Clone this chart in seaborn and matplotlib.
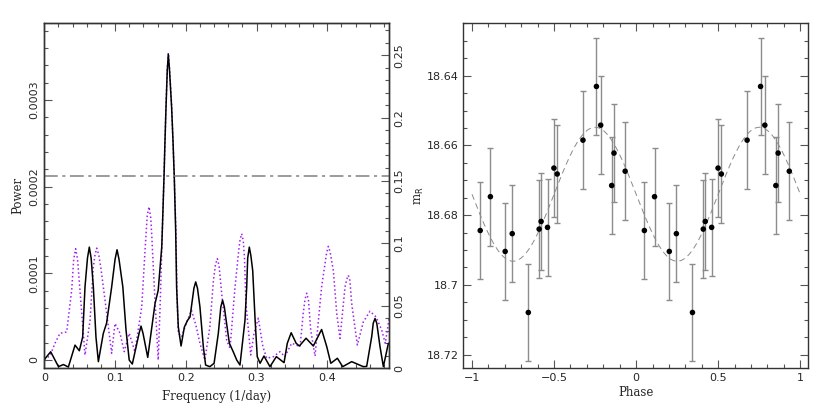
import numpy as np
import matplotlib
matplotlib.use('Agg')
import matplotlib.pyplot as plt
from matplotlib.ticker import MultipleLocator
import seaborn as sns

# periodogram (power in units of the right axis)
black_freq = [0.000, 0.009, 0.020, 0.027, 0.034, 0.0434, 0.0495, 0.0542, 0.0575, 0.0610,
              0.0636, 0.0662, 0.0693, 0.073, 0.0764, 0.0834, 0.088, 0.0952, 0.1000, 0.1028,
              0.1056, 0.111, 0.1155, 0.120, 0.1244, 0.1340, 0.1367, 0.1395, 0.1462, 0.1565,
              0.161, 0.166, 0.1668, 0.1692, 0.1706, 0.172, 0.1738, 0.1753, 0.177, 0.180,
              0.1819, 0.1837, 0.1857, 0.187, 0.1894, 0.1933, 0.198, 0.2027, 0.206, 0.2115,
              0.214, 0.2165, 0.220, 0.2248, 0.228, 0.234, 0.240, 0.246, 0.2495, 0.252,
              0.2545, 0.257, 0.2616, 0.267, 0.272, 0.2766, 0.2837, 0.2861, 0.2875, 0.2898,
              0.2920, 0.2946, 0.298, 0.301, 0.305, 0.3105, 0.319, 0.328, 0.3389, 0.3435,
              0.349, 0.356, 0.3605, 0.370, 0.3803, 0.392, 0.3993, 0.405, 0.4143, 0.4218,
              0.4345, 0.451, 0.4557, 0.4628, 0.4650, 0.4675, 0.4700, 0.4746, 0.4793, 0.4864]
black_power = [0.007, 0.0132, 0.0013, 0.003, 0.001, 0.0185, 0.014, 0.025, 0.065, 0.088,
               0.0968, 0.088, 0.065, 0.025, 0.0053, 0.0279, 0.036, 0.065, 0.087, 0.0947,
               0.087, 0.065, 0.0305, 0.0066, 0.0034, 0.028, 0.0337, 0.028, 0.0087, 0.0517,
               0.0623, 0.0968, 0.110, 0.153, 0.182, 0.208, 0.238, 0.2508, 0.238, 0.208,
               0.182, 0.153, 0.110, 0.065, 0.033, 0.0178, 0.033, 0.0385, 0.041, 0.064,
               0.069, 0.064, 0.049, 0.0172, 0.0026, 0.0013, 0.004, 0.028, 0.049, 0.0544,
               0.049, 0.0385, 0.020, 0.0133, 0.0066, 0.0026, 0.0385, 0.065, 0.088, 0.0968,
               0.090, 0.078, 0.0385, 0.0093, 0.004, 0.0098, 0.0013, 0.0093, 0.0045, 0.020,
               0.0284, 0.020, 0.0178, 0.024, 0.0178, 0.031, 0.0172, 0.004, 0.008, 0.0013,
               0.0053, 0.0013, 0.0015, 0.0252, 0.036, 0.0398, 0.036, 0.0172, 0.0013, 0.020]

purple_freq = [0.000, 0.008, 0.0151, 0.0222, 0.0316, 0.0387, 0.0415, 0.0443, 0.0470, 0.0504,
               0.0575, 0.0646, 0.0693, 0.0715, 0.074, 0.0768, 0.080, 0.0858, 0.0952, 0.0999,
               0.107, 0.113, 0.120, 0.128, 0.1377, 0.143, 0.1455, 0.148, 0.1505, 0.152,
               0.155, 0.161, 0.164, 0.1668, 0.1692, 0.172, 0.1738, 0.1753, 0.177, 0.180,
               0.1837, 0.186, 0.1875, 0.1894, 0.194, 0.200, 0.208, 0.214, 0.220, 0.227,
               0.234, 0.239, 0.242, 0.2446, 0.247, 0.2507, 0.2578, 0.2625, 0.2696, 0.275,
               0.2768, 0.279, 0.2812, 0.283, 0.285, 0.2918, 0.2965, 0.3025, 0.309, 0.3144,
               0.324, 0.3332, 0.340, 0.3497, 0.356, 0.3615, 0.366, 0.3685, 0.371, 0.3735,
               0.3766, 0.3827, 0.392, 0.399, 0.4015, 0.404, 0.4086, 0.4134, 0.418, 0.4251,
               0.4275, 0.4298, 0.432, 0.4345, 0.4425, 0.451, 0.4604, 0.4689, 0.477, 0.482,
               0.4877]
purple_power = [0.007, 0.010, 0.020, 0.028, 0.029, 0.0623, 0.087, 0.0955, 0.087, 0.0623,
                0.0106, 0.038, 0.081, 0.090, 0.096, 0.091, 0.080, 0.0544, 0.012, 0.0358,
                0.028, 0.0133, 0.028, 0.0133, 0.049, 0.100, 0.122, 0.129, 0.120, 0.105,
                0.070, 0.0066, 0.055, 0.110, 0.153, 0.210, 0.238, 0.252, 0.240, 0.210,
                0.153, 0.110, 0.060, 0.028, 0.025, 0.035, 0.0464, 0.035, 0.020, 0.0066,
                0.033, 0.070, 0.083, 0.0876, 0.082, 0.060, 0.0225, 0.0159, 0.065, 0.095,
                0.103, 0.1075, 0.102, 0.088, 0.052, 0.0106, 0.028, 0.040, 0.0172, 0.008,
                0.0093, 0.0133, 0.0093, 0.020, 0.0186, 0.0172, 0.0438, 0.055, 0.060, 0.054,
                0.0305, 0.0098, 0.065, 0.092, 0.0974, 0.093, 0.078, 0.0438, 0.0239, 0.065,
                0.071, 0.0743, 0.070, 0.052, 0.0186, 0.0371, 0.0456, 0.0411, 0.0305, 0.020,
                0.041]
threshold = 0.1533

# folded light curve, one cycle (plotted at phase-1 and phase)
phase = [0.050, 0.112, 0.202, 0.245, 0.343, 0.409, 0.421, 0.460, 0.499, 0.519,
         0.676, 0.758, 0.784, 0.851, 0.865, 0.933]
mag = [18.6844, 18.6747, 18.6904, 18.6853, 18.7079, 18.6840, 18.6818, 18.6835, 18.6665, 18.6682,
       18.6585, 18.6431, 18.6542, 18.6715, 18.6622, 18.6674]
mag_err = [0.014] * 16
# sinusoid fit
fit_mean = 18.674
fit_amp = 0.0192

sns.set_style('ticks')
plt.rcParams['font.family'] = ['DejaVu Sans']
label_font = {'family': 'DejaVu Serif', 'size': 8.5}

fig = plt.figure(figsize=(8.3, 4.12), dpi=100)
ax = fig.add_axes([0.0534, 0.1061, 0.4153, 0.8373])
ax2 = ax.twinx()

sns.lineplot(x=purple_freq, y=purple_power, ax=ax2, color='#a020f0', lw=1.1,
             linestyle=':', sort=False, estimator=None)
sns.lineplot(x=black_freq, y=black_power, ax=ax2, color='black', lw=1.1,
             sort=False, estimator=None)
ax2.axhline(threshold, color='#808080', lw=1.1, linestyle=(0, (9, 3, 2, 3)))

ax.set_xlim(0, 0.4873)
ax.set_ylim(-0.0000096, 0.0003885)
ax2.set_ylim(0, 0.2756)
ax.set_xticks([0, 0.1, 0.2, 0.3, 0.4], ['0', '0.1', '0.2', '0.3', '0.4'])
ax.xaxis.set_minor_locator(MultipleLocator(0.02))
ax.set_yticks([0, 1e-4, 2e-4, 3e-4], ['0', '0.0001', '0.0002', '0.0003'])
ax.yaxis.set_minor_locator(MultipleLocator(2e-5))
ax2.set_yticks([0, 0.05, 0.1, 0.15, 0.2, 0.25], ['0', '0.05', '0.1', '0.15', '0.2', '0.25'])
ax2.yaxis.set_minor_locator(MultipleLocator(0.01))
ax.tick_params(axis='y', labelrotation=90)
ax2.tick_params(axis='y', labelrotation=90)
for lab in ax.get_yticklabels() + ax2.get_yticklabels():
    lab.set_va('center')
ax.set_xlabel('Frequency (1/day)', fontdict=label_font, labelpad=5)
ax.set_ylabel('Power', fontdict=label_font, labelpad=4)

# right panel
ax3 = fig.add_axes([0.5582, 0.1061, 0.4157, 0.8373])
grid = np.linspace(-1, 1, 400)
sns.lineplot(x=grid, y=fit_mean + fit_amp * np.sin(2 * np.pi * grid), ax=ax3,
             color='#8a8a8a', lw=0.7, dashes=(6, 4))
for shift in (-1, 0):
    ph = [p + shift for p in phase]
    ax3.errorbar(ph, mag, yerr=mag_err, fmt='none', ecolor='#8c8c8c', elinewidth=1,
                 capsize=2, capthick=1)
    sns.scatterplot(x=ph, y=mag, ax=ax3, color='black', s=16, edgecolor='none', zorder=5)

ax3.set_xlim(-1.053, 1.049)
ax3.set_ylim(18.7239, 18.625)
ax3.set_xticks([-1, -0.5, 0, 0.5, 1], ['\u22121', '\u22120.5', '0', '0.5', '1'])
ax3.xaxis.set_minor_locator(MultipleLocator(0.1))
ax3.set_yticks([18.64, 18.66, 18.68, 18.70, 18.72], ['18.64', '18.66', '18.68', '18.7', '18.72'])
ax3.yaxis.set_minor_locator(MultipleLocator(0.005))
ax3.set_xlabel('Phase', fontdict=label_font, labelpad=2)
ax3.set_ylabel(r'm$_{\rm R}$', fontdict=label_font, labelpad=0)

for a in (ax, ax2, ax3):
    a.tick_params(which='both', direction='in', labelsize=8, color='#555555', width=0.8)
    a.tick_params(which='major', length=6)
    a.tick_params(which='minor', length=3)
    for sp in a.spines.values():
        sp.set_color('#333333')
        sp.set_linewidth(1)
ax.tick_params(which='both', top=True, right=False)
ax2.tick_params(which='both', right=True)
ax3.tick_params(which='both', top=True, right=True)

fig.savefig('out.png', dpi=100)
